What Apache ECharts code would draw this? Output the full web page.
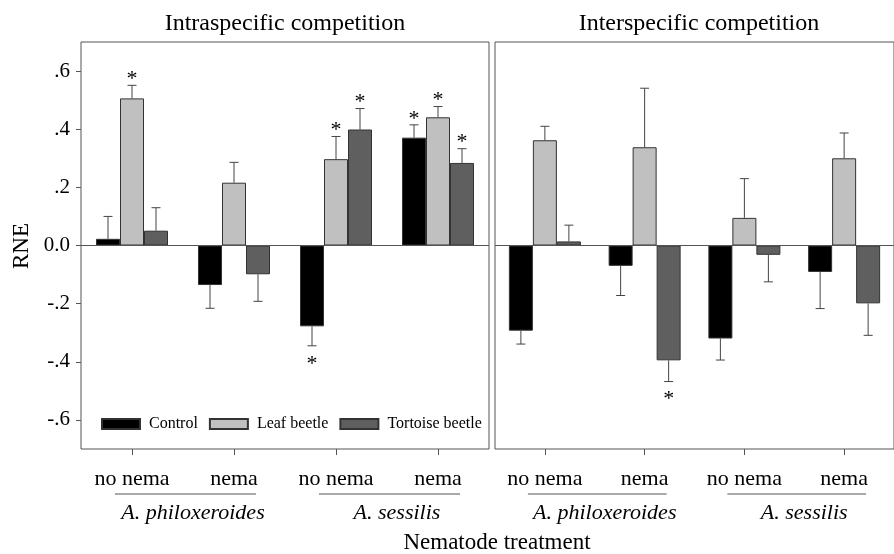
<!DOCTYPE html>
<html>
<head>
<meta charset="utf-8">
<script src="https://cdn.jsdelivr.net/npm/echarts@6/dist/echarts.min.js"></script>
<style>
html,body{margin:0;padding:0;background:#fff;}
#chart{width:894px;height:554px;}
</style>
</head>
<body>
<div id="chart"></div>
<script>
// ---- Data ----
const categories = ['no nema', 'nema', 'no nema', 'nema'];
const seriesNames = ['Control', 'Leaf beetle', 'Tortoise beetle'];
const panelTitles = ['Intraspecific competition', 'Interspecific competition'];
const speciesLabels = ['A. philoxeroides', 'A. sessilis'];
const yTickValues = [-0.6, -0.4, -0.2, 0, 0.2, 0.4, 0.6];
const yTickLabels = ['-.6', '-.4', '-.2', '0.0', '.2', '.4', '.6'];

// Intraspecific competition: means, standard errors, significance
const intraControl = [0.023, -0.136, -0.278, 0.371];
const intraLeaf = [0.506, 0.216, 0.297, 0.441];
const intraTortoise = [0.051, -0.099, 0.399, 0.284];
const intraControlSE = [0.077, 0.080, 0.067, 0.044];
const intraLeafSE = [0.045, 0.070, 0.078, 0.037];
const intraTortoiseSE = [0.079, 0.093, 0.072, 0.049];
const intraControlSig = [0, 0, 1, 1];
const intraLeafSig = [1, 0, 1, 1];
const intraTortoiseSig = [0, 0, 1, 1];

// Interspecific competition
const interControl = [-0.293, -0.070, -0.320, -0.091];
const interLeaf = [0.362, 0.338, 0.095, 0.300];
const interTortoise = [0.014, -0.395, -0.032, -0.199];
const interControlSE = [0.046, 0.102, 0.074, 0.126];
const interLeafSE = [0.048, 0.203, 0.135, 0.087];
const interTortoiseSE = [0.056, 0.073, 0.093, 0.110];
const interControlSig = [0, 0, 0, 0];
const interLeafSig = [0, 0, 0, 0];
const interTortoiseSig = [0, 1, 0, 0];

// ---- Styling ----
const FONT = '"Liberation Serif", "Times New Roman", serif';
const colors = ['#000000', '#c0c0c0', '#5f5f5f'];
const BAR_W = 24;
const AXIS_C = '#555';

const panels = [
  {means: [intraControl, intraLeaf, intraTortoise], se: [intraControlSE, intraLeafSE, intraTortoiseSE], sig: [intraControlSig, intraLeafSig, intraTortoiseSig]},
  {means: [interControl, interLeaf, interTortoise], se: [interControlSE, interLeafSE, interTortoiseSE], sig: [interControlSig, interLeafSig, interTortoiseSig]}
];

const grids = [
  {left: 81, top: 42, width: 408, height: 407},
  {left: 495, top: 42, width: 408, height: 407}
];

const chart = echarts.init(document.getElementById('chart'), null, {renderer: 'canvas'});

const xAxes = grids.map((g, i) => ({
  type: 'category', gridIndex: i, data: categories, position: 'bottom',
  axisLine: {show: false, onZero: false},
  axisTick: {show: true, alignWithLabel: true, length: 6, lineStyle: {color: AXIS_C}},
  axisLabel: {fontFamily: FONT, fontSize: 22, color: '#000', margin: 19}
}));
const yAxes = grids.map((g, i) => ({
  type: 'value', gridIndex: i, min: -0.7, max: 0.7,
  axisLine: {show: false},
  splitLine: {show: false},
  axisTick: i === 0 ? {show: true, length: 5, customValues: yTickValues, lineStyle: {color: AXIS_C}} : {show: false},
  axisLabel: i === 0 ? {
    show: true, customValues: yTickValues, fontFamily: FONT, fontSize: 21, color: '#000', margin: 11,
    formatter: v => { const idx = yTickValues.findIndex(t => Math.abs(t - v) < 1e-6); return idx >= 0 ? yTickLabels[idx] : ''; }
  } : {show: false}
}));

const series = [];
panels.forEach((p, gi) => {
  seriesNames.forEach((name, k) => {
    const s = {
      type: 'bar', name: name, xAxisIndex: gi, yAxisIndex: gi,
      data: p.means[k], barWidth: BAR_W, barGap: '0%',
      itemStyle: {color: colors[k], borderColor: '#333', borderWidth: 1},
      emphasis: {disabled: true}
    };
    if (k === 0) {
      s.markLine = {silent: true, symbol: 'none', label: {show: false},
        lineStyle: {color: AXIS_C, type: 'solid', width: 1}, data: [{yAxis: 0}]};
    }
    series.push(s);
  });
  const errData = [];
  seriesNames.forEach((name, k) => {
    p.means[k].forEach((v, c) => errData.push([c, v, p.se[k][c], p.sig[k][c], k]));
  });
  series.push({
    type: 'custom', xAxisIndex: gi, yAxisIndex: gi, silent: true, z: 5,
    data: errData,
    renderItem: (params, api) => {
      const c = api.value(0), v = api.value(1), se = api.value(2), sig = api.value(3), k = api.value(4);
      const dir = v >= 0 ? 1 : -1;
      const p0 = api.coord([c, v]);
      const p1 = api.coord([c, v + dir * se]);
      const x = p0[0] + (k - 1) * BAR_W;
      const st = {stroke: '#444', lineWidth: 1};
      const children = [
        {type: 'line', shape: {x1: x, y1: p0[1], x2: x, y2: p1[1]}, style: st},
        {type: 'line', shape: {x1: x - 4.5, y1: p1[1], x2: x + 4.5, y2: p1[1]}, style: st}
      ];
      if (sig) {
        children.push({type: 'text', style: {text: '*', x: x, y: dir > 0 ? p1[1] - 6 : p1[1] + 18,
          textAlign: 'center', textVerticalAlign: 'middle', font: '22px ' + FONT, fill: '#000'}});
      }
      return {type: 'group', children: children};
    }
  });
});

const option = {
  animation: false,
  backgroundColor: '#fff',
  grid: grids.map(g => Object.assign({show: true, borderColor: AXIS_C, borderWidth: 1, backgroundColor: 'transparent', containLabel: false}, g)),
  xAxis: xAxes,
  yAxis: yAxes,
  legend: {
    data: seriesNames, left: 96, top: 411, itemWidth: 38, itemHeight: 10, itemGap: 11,
    icon: 'rect', selectedMode: false,
    textStyle: {fontFamily: FONT, fontSize: 16, color: '#000', padding: [0, 0, 0, 4]}
  },
  series: series
};
chart.setOption(option);

// Annotations derived from axis positions
const graphics = [];
grids.forEach((g, gi) => {
  graphics.push({type: 'text', x: g.left + g.width / 2, y: 24,
    style: {text: panelTitles[gi], font: '24px ' + FONT, fill: '#000', textAlign: 'center', textVerticalAlign: 'middle'}});
  for (let s = 0; s < 2; s++) {
    const xa = chart.convertToPixel({xAxisIndex: gi}, s * 2);
    const xb = chart.convertToPixel({xAxisIndex: gi}, s * 2 + 1);
    graphics.push({type: 'line', shape: {x1: xa - 17, y1: 494, x2: xb + 22, y2: 494}, style: {stroke: '#555', lineWidth: 1}});
    graphics.push({type: 'text', x: (xa + xb) / 2 + 10, y: 513,
      style: {text: speciesLabels[s], font: 'italic 22px ' + FONT, fill: '#000', textAlign: 'center', textVerticalAlign: 'middle'}});
  }
});
graphics.push({type: 'text', x: 497, y: 543,
  style: {text: 'Nematode treatment', font: '23px ' + FONT, fill: '#000', textAlign: 'center', textVerticalAlign: 'middle'}});
graphics.push({type: 'text', x: 22, y: 246, rotation: Math.PI / 2,
  style: {text: 'RNE', font: '23px ' + FONT, fill: '#000', textAlign: 'center', textVerticalAlign: 'middle'}});
chart.setOption({graphic: graphics});
</script>
</body>
</html>
